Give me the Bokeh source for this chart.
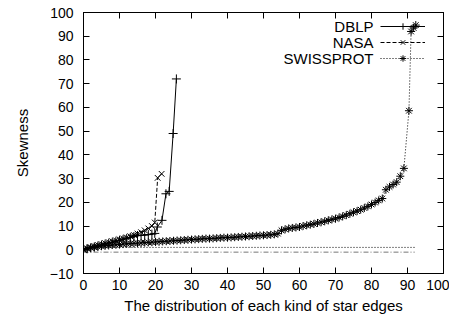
from bokeh.plotting import figure
from bokeh.models import LinearAxis, Legend, LegendItem, Label, FixedTicker, Range1d
from bokeh.embed import file_html
from bokeh.resources import INLINE

# ---- data ----
x_ticks = [0, 10, 20, 30, 40, 50, 60, 70, 80, 90, 100]
y_ticks = [-10, 0, 10, 20, 30, 40, 50, 60, 70, 80, 90, 100]

dblp_x = [0, 1, 2, 3, 4, 5, 6, 7, 8, 9, 10, 11, 12, 13, 14, 15, 16, 17, 18, 19,
          19.8, 20.5, 21.8, 22.9, 23.8, 24.9, 25.8]
dblp_y = [0.0, 0.4, 0.8, 1.2, 1.6, 2.0, 2.4, 2.8, 3.2, 3.6, 4.0, 4.4, 4.8, 5.2, 5.6, 6.0,
          6.1, 6.2, 6.4, 6.6, 6.9, 9.6, 12.4, 23.6, 24.6, 49.0, 72.0]

nasa_x = [0, 1, 2, 3, 4, 5, 6, 7, 8, 9, 10, 11, 12, 13, 14, 15, 16, 17, 18, 19,
          19.8, 20.6, 21.7]
nasa_y = [0.0, 0.6, 1.1, 1.6, 2.0, 2.4, 2.8, 3.2, 3.6, 4.0, 4.4, 4.8, 5.2, 5.7, 6.2, 6.8,
          7.4, 8.2, 9.0, 10.0, 11.5, 30.3, 32.0]

swiss_x = list(range(0, 90)) + [90.4, 91.0, 91.7, 92.3]
swiss_y = [0.0, 0.5, 0.8, 1.0, 1.3, 1.5, 1.7, 1.8, 2.0, 2.1,
           2.2, 2.4, 2.5, 2.6, 2.7, 2.8, 2.9, 3.0, 3.1, 3.2,
           3.3, 3.4, 3.5, 3.6, 3.7, 3.8, 3.9, 4.0, 4.1, 4.2,
           4.3, 4.4, 4.5, 4.6, 4.7, 4.7, 4.8, 4.9, 5.0, 5.1,
           5.1, 5.2, 5.3, 5.4, 5.5, 5.6, 5.7, 5.8, 5.9, 6.0,
           6.1, 6.2, 6.3, 6.5, 6.8, 8.2, 8.6, 9.0, 9.2, 9.4,
           9.6, 10.0, 10.3, 10.6, 10.9, 11.3, 11.6, 12.0, 12.4, 12.8,
           13.1, 13.6, 14.1, 14.6, 15.2, 15.8, 16.3, 16.9, 17.6, 18.3,
           19.1, 19.9, 20.8, 21.6, 25.3, 26.5, 27.5, 28.5, 31.0, 34.3,
           58.6, 92.0, 93.5, 94.7]

upper_x = [0, 92]
upper_y = [1, 1]
lower_x = [0, 92]
lower_y = [-1, -1]

series_names = ["DBLP", "NASA", "SWISSPROT"]

FONT = "Liberation Sans"

p = figure(frame_width=360, frame_height=261,
           x_range=Range1d(0, 100), y_range=Range1d(-10, 100),
           output_backend="svg", toolbar_location=None,
           min_border_left=83, min_border_right=6, min_border_top=12, min_border_bottom=40)
p.grid.visible = False
p.outline_line_color = "black"
p.outline_line_width = 1
p.background_fill_color = "white"
p.border_fill_color = "white"

# mirror axes (ticks only)
top_ax = LinearAxis()
right_ax = LinearAxis()
p.add_layout(top_ax, "above")
p.add_layout(right_ax, "right")

for ax in p.xaxis:
    ax.ticker = FixedTicker(ticks=x_ticks)
for ax in p.yaxis:
    ax.ticker = FixedTicker(ticks=y_ticks)

for ax in list(p.xaxis) + list(p.yaxis):
    ax.major_tick_in = 6
    ax.major_tick_out = 0
    ax.minor_tick_line_color = None
    ax.axis_line_color = "black"
    ax.major_tick_line_color = "black"
    ax.major_label_text_font = FONT
    ax.major_label_text_font_size = "14px"
    ax.major_label_text_color = "black"
    ax.axis_label_text_font = FONT
    ax.axis_label_text_font_size = "15px"
    ax.axis_label_text_font_style = "normal"
    ax.axis_label_text_color = "black"

top_ax.major_label_overrides = {t: "" for t in x_ticks}
top_ax.major_label_standoff = 0
right_ax.major_label_overrides = {t: "" for t in y_ticks}
right_ax.major_label_standoff = 0

p.below[0].axis_label = "The distribution of each kind of star edges"
p.below[0].major_label_standoff = 6
p.below[0].axis_label_standoff = 4
p.left[0].axis_label = "Skewness"
p.left[0].major_label_standoff = 10
p.left[0].axis_label_standoff = 16

# threshold lines
p.line(upper_x, upper_y, line_color="black", line_width=1, line_dash="1 2")
p.line(lower_x, lower_y, line_color="#777777", line_width=1, line_dash="5 2 1 2")

# series
l1 = p.line(dblp_x, dblp_y, line_color="black", line_width=1)
s1 = p.scatter(dblp_x, dblp_y, marker="cross", size=9, line_color="black", line_width=1)
l2 = p.line(nasa_x, nasa_y, line_color="black", line_width=1, line_dash="4 2")
s2 = p.scatter(nasa_x, nasa_y, marker="x", size=8, line_color="black", line_width=1)
l3 = p.line(swiss_x, swiss_y, line_color="black", line_width=1, line_dash="1 2")
s3 = p.scatter(swiss_x, swiss_y, marker="asterisk", size=8, line_color="black", line_width=1)

legend = Legend(items=[LegendItem(label="", renderers=[l1, s1]),
                       LegendItem(label="", renderers=[l2, s2]),
                       LegendItem(label="", renderers=[l3, s3])],
                location=(297, 207), orientation="vertical",
                glyph_width=45, glyph_height=16, label_height=16, spacing=0,
                padding=0, margin=0, border_line_color=None,
                background_fill_alpha=0, label_text_font_size="10px",
                label_standoff=0)
p.add_layout(legend)

rows_y = [247, 231, 215]
for name, yy in zip(series_names, rows_y):
    p.add_layout(Label(x=290, y=yy, x_units="screen", y_units="screen", text=name,
                       text_align="right", text_baseline="middle",
                       text_font=FONT, text_font_size="15px", text_color="black"))

open("out.html", "w").write(file_html(p, INLINE))
